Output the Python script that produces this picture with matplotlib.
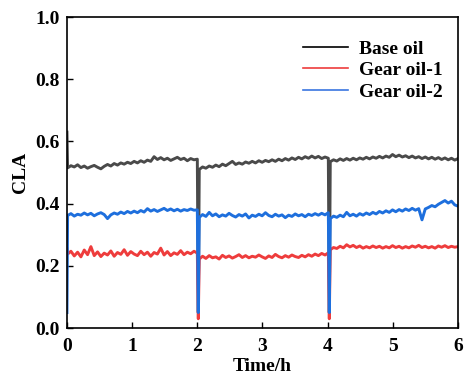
import numpy as np
import matplotlib
matplotlib.use("Agg")
import matplotlib.pyplot as plt
from matplotlib.lines import Line2D

plt.rcParams['font.family'] = ['Liberation Serif', 'DejaVu Serif']
plt.rcParams['font.weight'] = 'bold'

labels = ["Base oil", "Gear oil-1", "Gear oil-2"]
colors = ["#4a4a4a", "#ee3c3c", "#1e6fdd"]
legend_colors = ["#000000", "#ee3c3c", "#3a76e0"]

# segment 1 (t = 0 .. 2.0 h)
base_seg1 = [0.63, 0.515, 0.522, 0.518, 0.525, 0.516, 0.521, 0.514, 0.519, 0.523,
             0.517, 0.512, 0.520, 0.526, 0.521, 0.529, 0.524, 0.531, 0.527, 0.533,
             0.529, 0.536, 0.531, 0.538, 0.533, 0.540, 0.536, 0.551, 0.542, 0.548,
             0.541, 0.546, 0.539, 0.544, 0.549, 0.542, 0.546, 0.538, 0.545, 0.541, 0.543]
base_seg2 = [0.510, 0.518, 0.514, 0.521, 0.517, 0.524, 0.519, 0.527, 0.522, 0.529,
             0.536, 0.526, 0.531, 0.527, 0.534, 0.530, 0.536, 0.531, 0.538, 0.533,
             0.539, 0.535, 0.541, 0.536, 0.543, 0.538, 0.545, 0.540, 0.547, 0.542,
             0.549, 0.544, 0.551, 0.546, 0.553, 0.547, 0.552, 0.545, 0.550, 0.546]
base_seg3 = [0.535, 0.541, 0.537, 0.544, 0.539, 0.545, 0.540, 0.546, 0.541, 0.547,
             0.543, 0.549, 0.544, 0.550, 0.546, 0.552, 0.547, 0.553, 0.549, 0.558,
             0.551, 0.556, 0.550, 0.554, 0.548, 0.553, 0.547, 0.551, 0.545, 0.550,
             0.544, 0.549, 0.543, 0.548, 0.542, 0.547, 0.541, 0.546, 0.540, 0.545]

red_seg1 = [0.255, 0.238, 0.247, 0.232, 0.244, 0.229, 0.251, 0.236, 0.262, 0.233,
            0.245, 0.230, 0.241, 0.235, 0.248, 0.231, 0.243, 0.237, 0.252, 0.234,
            0.246, 0.238, 0.233, 0.247, 0.236, 0.244, 0.231, 0.243, 0.238, 0.257,
            0.235, 0.246, 0.233, 0.242, 0.237, 0.249, 0.236, 0.244, 0.239, 0.247, 0.241]
red_seg2 = [0.222, 0.231, 0.224, 0.233, 0.226, 0.229, 0.222, 0.234, 0.227, 0.232,
            0.225, 0.230, 0.236, 0.227, 0.233, 0.226, 0.231, 0.228, 0.235, 0.229,
            0.224, 0.232, 0.227, 0.237, 0.230, 0.226, 0.233, 0.228, 0.235, 0.230,
            0.227, 0.234, 0.229, 0.236, 0.231, 0.238, 0.233, 0.240, 0.235, 0.242]
red_seg3 = [0.252, 0.259, 0.256, 0.263, 0.258, 0.268, 0.261, 0.266, 0.259, 0.264,
            0.257, 0.262, 0.258, 0.264, 0.259, 0.263, 0.257, 0.262, 0.258, 0.265,
            0.259, 0.263, 0.257, 0.262, 0.258, 0.264, 0.260, 0.266, 0.259, 0.263,
            0.258, 0.262, 0.257, 0.264, 0.260, 0.265, 0.259, 0.263, 0.260, 0.262]

blue_seg1 = [0.05, 0.362, 0.368, 0.360, 0.366, 0.363, 0.370, 0.364, 0.369, 0.361,
             0.367, 0.371, 0.365, 0.352, 0.364, 0.370, 0.366, 0.373, 0.368, 0.375,
             0.370, 0.376, 0.371, 0.378, 0.373, 0.384, 0.376, 0.381, 0.375, 0.380,
             0.385, 0.378, 0.383, 0.377, 0.382, 0.376, 0.381, 0.378, 0.383, 0.379, 0.380]
blue_seg2 = [0.356, 0.365, 0.359, 0.372, 0.361, 0.367, 0.358, 0.364, 0.360, 0.369,
             0.362, 0.357, 0.365, 0.360, 0.367, 0.354, 0.363, 0.359, 0.366, 0.361,
             0.371, 0.362, 0.358, 0.366, 0.360, 0.364, 0.355, 0.363, 0.359, 0.367,
             0.361, 0.365, 0.358, 0.366, 0.362, 0.368, 0.363, 0.369, 0.364, 0.371]
blue_seg3 = [0.352, 0.360, 0.356, 0.363, 0.358, 0.372, 0.361, 0.366, 0.360, 0.368,
             0.363, 0.370, 0.365, 0.372, 0.367, 0.375, 0.370, 0.377, 0.372, 0.380,
             0.374, 0.381, 0.376, 0.383, 0.378, 0.385, 0.379, 0.384, 0.348, 0.383,
             0.388, 0.394, 0.390, 0.398, 0.404, 0.410, 0.402, 0.408, 0.396, 0.392]

# minimum at the oil-change interruptions (t ~ 2.02 h and 4.03 h)
base_drop = [0.05, 0.05]
red_drop = [0.03, 0.03]
blue_drop = [0.05, 0.05]

t_seg1 = np.concatenate([[0.0], np.linspace(0.01, 2.0, 40)])
t_drop = [2.015, 4.025]
t_seg2 = np.linspace(2.03, 4.01, 40)
t_seg3 = np.linspace(4.04, 6.0, 40)
time = np.concatenate([t_seg1, [t_drop[0]], t_seg2, [t_drop[1]], t_seg3])

def build(s1, s2, s3, d):
    return np.concatenate([s1, [d[0]], s2, [d[1]], s3])

series = [build(base_seg1, base_seg2, base_seg3, base_drop),
          build(red_seg1, red_seg2, red_seg3, red_drop),
          build(blue_seg1, blue_seg2, blue_seg3, blue_drop)]

fig = plt.figure(figsize=(4.65, 3.78), dpi=100)
ax = fig.add_axes([0.144, 0.132, 0.841, 0.823])

for y, c in zip(series, colors):
    ax.plot(time, y, color=c, lw=2.1)

ax.set_xlim(0, 6)
ax.set_ylim(0, 1.0)
ax.set_xticks(range(0, 7))
ax.set_yticks(np.arange(0, 1.01, 0.2))
ax.set_yticklabels([f"{v:.1f}" for v in np.arange(0, 1.01, 0.2)])
ax.tick_params(direction='in', length=4, width=1.0, labelsize=14)
ax.tick_params(axis='x', pad=7)
ax.tick_params(axis='y', pad=5)
for lbl in ax.get_xticklabels() + ax.get_yticklabels():
    lbl.set_fontweight('bold')
for sp in ax.spines.values():
    sp.set_linewidth(1.2)

ax.set_xlabel("Time/h", fontsize=14, fontweight='bold', labelpad=2)
ax.set_ylabel("CLA", fontsize=14, fontweight='bold', labelpad=5)

handles = [Line2D([0], [0], color=c, lw=1.2) for c in legend_colors]
ax.legend(handles, labels, loc='upper right', frameon=False,
          prop={'size': 14, 'weight': 'bold'}, handlelength=2.3,
          handletextpad=0.55, labelspacing=0.2, borderaxespad=0.3,
          bbox_to_anchor=(0.995, 0.97))

fig.savefig("out.png", dpi=100)
